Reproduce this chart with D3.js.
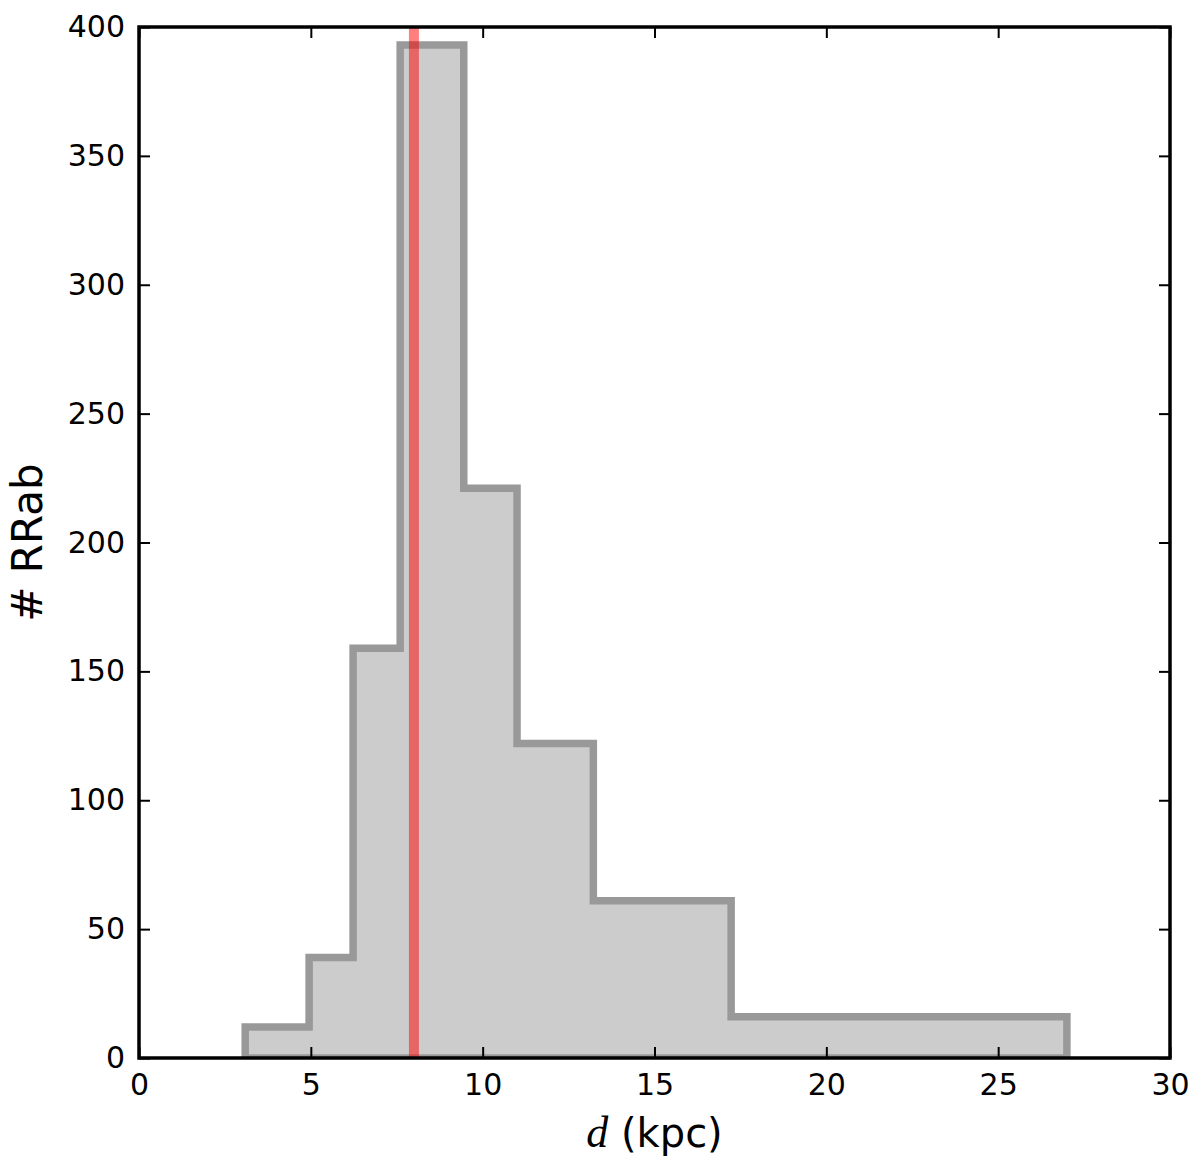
<!DOCTYPE html>
<html>
<head>
<meta charset="utf-8">
<script src="https://cdn.jsdelivr.net/npm/d3@7"></script>
<style>
  body { margin: 0; background: #fff; }
  svg { display: block; font-family: "DejaVu Sans", sans-serif; }
</style>
</head>
<body>
<script>
//chart data
var binEdges = [3.09, 4.95, 6.23, 7.6, 9.45, 11.0, 13.22, 17.23, 27.0];
var counts = [12, 39, 159, 393, 221, 122, 61, 16];
var xTicks = [0, 5, 10, 15, 20, 25, 30];
var yTicks = [0, 50, 100, 150, 200, 250, 300, 350, 400];
var sunDistance = [8.0];

var w = 1200, h = 1167;
var margin = {top: 27, right: 30, bottom: 109, left: 139};
var iw = w - margin.left - margin.right,
    ih = h - margin.top - margin.bottom;

var svg = d3.select("body").append("svg")
    .attr("width", w)
    .attr("height", h);

svg.append("defs").append("clipPath")
    .attr("id", "plotclip")
  .append("rect")
    .attr("width", iw)
    .attr("height", ih);

var g = svg.append("g")
    .attr("transform", "translate(" + margin.left + "," + margin.top + ")");

var x = d3.scaleLinear().domain([0, 30]).range([0, iw]);
var y = d3.scaleLinear().domain([0, 400]).range([ih, 0]);

//step outline of the histogram, closed along the baseline
var pts = [[binEdges[0], 0]];
counts.forEach(function(c, i){
    pts.push([binEdges[i], c]);
    pts.push([binEdges[i + 1], c]);
});
pts.push([binEdges[binEdges.length - 1], 0]);

var line = d3.line()
    .x(function(d){ return x(d[0]); })
    .y(function(d){ return y(d[1]); });

var plot = g.append("g").attr("clip-path", "url(#plotclip)");

plot.append("path")
    .datum(pts)
    .attr("d", function(d){ return line(d) + "Z"; })
    .attr("fill", "#cccccc")
    .attr("stroke", "#999999")
    .attr("stroke-width", 7.5)
    .attr("stroke-linejoin", "miter");

//vertical reference line
plot.selectAll(".sunline")
    .data(sunDistance)
    .enter()
    .append("line")
    .attr("class", "sunline")
    .attr("x1", function(d){ return x(d); })
    .attr("x2", function(d){ return x(d); })
    .attr("y1", y(0))
    .attr("y2", y(400))
    .attr("stroke", "#ff0000")
    .attr("stroke-opacity", 0.5)
    .attr("stroke-width", 10);

//axes, ticks pointing inward on every side
var tickLen = 11;
var xAxis = d3.axisBottom(x).tickValues(xTicks).tickSizeInner(-tickLen).tickSizeOuter(0).tickPadding(16);
var yAxis = d3.axisLeft(y).tickValues(yTicks).tickSizeInner(-tickLen).tickSizeOuter(0).tickPadding(14);
var xTop = d3.axisTop(x).tickValues(xTicks).tickSizeInner(-tickLen).tickSizeOuter(0).tickFormat("");
var yRight = d3.axisRight(y).tickValues(yTicks).tickSizeInner(-tickLen).tickSizeOuter(0).tickFormat("");

function styleAxis(sel){
    sel.select(".domain").remove();
    sel.selectAll(".tick line").attr("stroke", "#000").attr("stroke-width", 2);
    sel.selectAll(".tick text")
        .attr("fill", "#000")
        .style("font-size", "30px")
        .style("font-family", "'DejaVu Sans', sans-serif");
}

g.append("g").attr("transform", "translate(0," + ih + ")").call(xAxis).call(styleAxis);
g.append("g").call(yAxis).call(styleAxis);
g.append("g").call(xTop).call(styleAxis);
g.append("g").attr("transform", "translate(" + iw + ",0)").call(yRight).call(styleAxis);

//frame
g.append("rect")
    .attr("width", iw)
    .attr("height", ih)
    .attr("fill", "none")
    .attr("stroke", "#000")
    .attr("stroke-width", 3.5);

//axis labels
var xl = svg.append("text")
    .attr("x", margin.left + iw / 2)
    .attr("y", 1147)
    .attr("text-anchor", "middle")
    .style("font-size", "40px")
    .attr("fill", "#000");
xl.append("tspan")
    .style("font-family", "'Liberation Serif', serif")
    .style("font-style", "italic")
    .style("font-size", "44px")
    .text("d");
xl.append("tspan").text(" (kpc)");

svg.append("text")
    .attr("transform", "translate(42," + (margin.top + ih / 2) + ") rotate(-90)")
    .attr("text-anchor", "middle")
    .style("font-size", "42px")
    .attr("fill", "#000")
    .text("# RRab");
</script>
</body>
</html>
